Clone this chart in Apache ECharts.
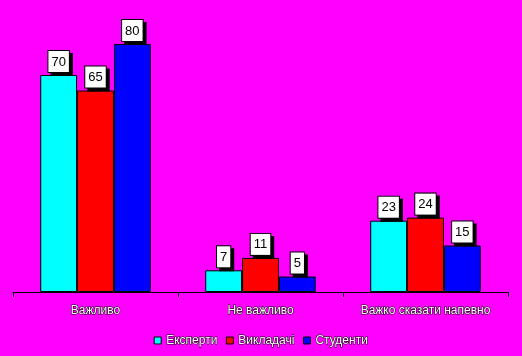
<!DOCTYPE html>
<html><head><meta charset="utf-8">
<script src="https://cdn.jsdelivr.net/npm/echarts@6/dist/echarts.min.js"></script>
<style>html,body{margin:0;padding:0;background:#FF00FF}#c{width:522px;height:356px}</style>
</head><body><div id="c"></div>
<script>
const categories = ['Важливо', 'Не важливо', 'Важко сказати напевно'];
const seriesNames = ['Експерти', 'Викладачі', 'Студенти'];
const experts = [70, 7, 23];
const teachers = [65, 11, 24];
const students = [80, 5, 15];
const colors = ['#00FFFF', '#FF0000', '#0000FF'];

const chart = echarts.init(document.getElementById('c'));
const labelStyle = {
  show: true, position: 'top', distance: 3,
  color: '#000', fontFamily: 'Arial, Liberation Sans', fontSize: 13,
  backgroundColor: '#fff', borderColor: '#000', borderWidth: 1,
  padding: [4, 3, 3, 3], lineHeight: 14,
  shadowColor: '#000', shadowBlur: 0, shadowOffsetX: 3, shadowOffsetY: 3
};
const mk = (name, data, i) => ({
  name, type: 'bar', data, barGap: '0%', barCategoryGap: '33%',
  itemStyle: { color: colors[i], borderColor: '#000', borderWidth: 1 },
  label: labelStyle, animation: false
});
chart.setOption({
  backgroundColor: '#FF00FF',
  animation: false,
  grid: { left: 13, right: 14, top: 44, bottom: 64 },
  legend: {
    bottom: 4, left: 'center', itemWidth: 7, itemHeight: 7, itemGap: 8,
    icon: 'rect',
    textStyle: { color: '#fff', fontFamily: 'Arial, Liberation Sans', fontSize: 12, textBorderColor: '#000', textBorderWidth: 1 },
    itemStyle: { borderColor: '#000', borderWidth: 1 },
    data: seriesNames
  },
  xAxis: {
    type: 'category', data: categories,
    axisLine: { lineStyle: { color: '#000', width: 1 } },
    axisTick: { show: true, interval: 0, length: 5, lineStyle: { color: '#000' } },
    axisLabel: { interval: 0, color: '#fff', fontFamily: 'Arial, Liberation Sans', fontSize: 12, margin: 13, textBorderColor: '#000', textBorderWidth: 1 }
  },
  yAxis: { type: 'value', min: 0, max: 80, show: false, splitLine: { show: false } },
  series: [mk(seriesNames[0], experts, 0), mk(seriesNames[1], teachers, 1), mk(seriesNames[2], students, 2)]
});
</script></body></html>
